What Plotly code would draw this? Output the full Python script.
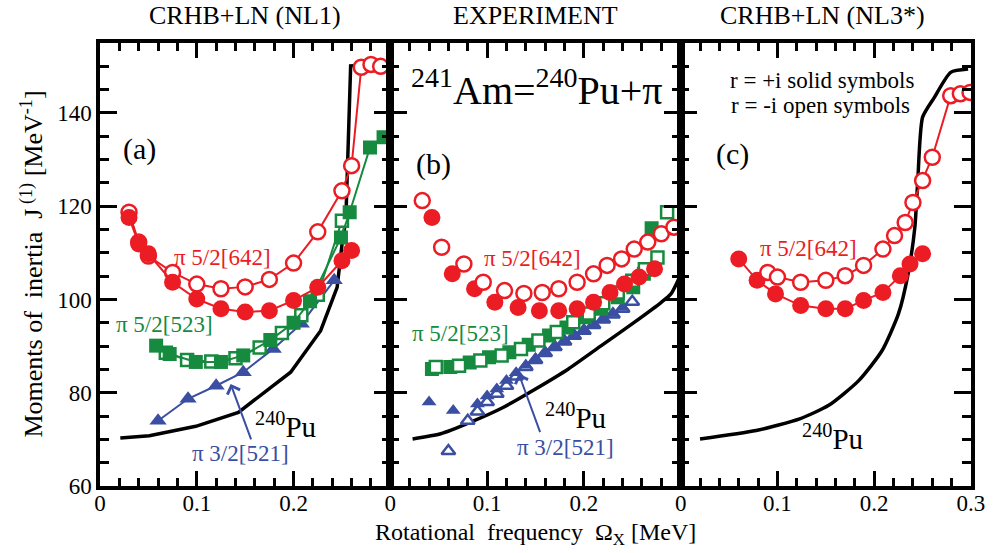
import plotly.graph_objects as go

# ---------------- data ----------------
# Panel (a): CRHB+LN (NL1)
a_core_w = [0.021, 0.051, 0.099, 0.143, 0.197, 0.228, 0.245, 0.2505, 0.254, 0.259, 0.298]
a_core_j = [70.3, 70.8, 72.8, 75.8, 84.4, 93.3, 102.6, 112.6, 116.9, 150.1, 150.5]

a_642_open_w = [0.03, 0.04, 0.05, 0.075, 0.1, 0.125, 0.15, 0.175, 0.2, 0.225, 0.25, 0.26, 0.27, 0.28, 0.29]
a_642_open_j = [118.7, 112.3, 109.3, 105.8, 103.3, 102.3, 102.7, 104.3, 107.8, 114.5, 123.3, 128.7, 149.8, 150.4, 150.0]
a_642_fill_w = [0.03, 0.04, 0.05, 0.075, 0.1, 0.125, 0.15, 0.175, 0.2, 0.225, 0.25, 0.26]
a_642_fill_j = [117.6, 111.9, 109.8, 103.7, 100.1, 98.0, 97.3, 97.6, 99.8, 102.6, 108.3, 110.5]

a_523_fill_w = [0.058, 0.072, 0.099, 0.125, 0.148, 0.176, 0.2, 0.217, 0.249, 0.258, 0.279, 0.293]
a_523_fill_j = [90.1, 88.3, 86.6, 86.6, 88.0, 91.3, 95.0, 99.6, 113.3, 118.7, 132.6, 134.8]
a_523_open_w = [0.068, 0.09, 0.115, 0.14, 0.165, 0.188, 0.208, 0.225, 0.25]
a_523_open_j = [88.6, 87.0, 86.7, 87.4, 89.7, 92.8, 96.6, 101.0, 116.9]

a_521_fill_w = [0.06, 0.091, 0.12, 0.148, 0.179, 0.208, 0.242]
a_521_fill_j = [74.0, 78.7, 81.5, 84.4, 89.4, 94.8, 104.1]

# Panel (b): experiment
b_core_w = [0.023, 0.052, 0.083, 0.117, 0.15, 0.184, 0.218, 0.252, 0.28, 0.29, 0.298]
b_core_j = [70.1, 71.2, 73.7, 76.9, 80.8, 85.1, 90.1, 95.1, 99.4, 101.2, 104.4]

b_642_fill_w = [0.043, 0.064, 0.087, 0.108, 0.132, 0.154, 0.174, 0.193, 0.21, 0.227, 0.242, 0.257, 0.273]
b_642_fill_j = [117.6, 105.5, 102.3, 99.4, 98.3, 97.6, 97.6, 98.0, 99.4, 101.5, 103.3, 104.8, 106.6]
b_642_open_w = [0.033, 0.053, 0.076, 0.096, 0.118, 0.138, 0.157, 0.174, 0.193, 0.21, 0.224, 0.239, 0.252, 0.266, 0.28, 0.293]
b_642_open_j = [121.2, 111.2, 107.6, 103.7, 101.9, 101.3, 101.5, 102.3, 103.7, 105.5, 107.3, 108.7, 110.8, 112.3, 114.1, 115.5]

b_523_fill_w = [0.043, 0.062, 0.082, 0.102, 0.123, 0.143, 0.164, 0.182, 0.201, 0.218, 0.235, 0.251, 0.262, 0.27]
b_523_fill_j = [85.1, 85.5, 86.5, 87.6, 88.7, 90.3, 92.3, 94.0, 96.2, 98.0, 100.5, 102.6, 105.5, 115.3]
b_523_open_w = [0.047, 0.071, 0.093, 0.115, 0.135, 0.153, 0.172, 0.189, 0.205, 0.22, 0.235, 0.25, 0.263, 0.276, 0.286]
b_523_open_j = [85.5, 85.8, 86.9, 88.0, 89.4, 91.2, 93.0, 95.1, 97.0, 99.2, 101.5, 104.0, 106.5, 109.0, 118.7]

b_521_fill_w = [0.04, 0.065, 0.09, 0.10, 0.11, 0.12, 0.13, 0.14, 0.15, 0.16, 0.17, 0.18, 0.19, 0.2, 0.21, 0.22, 0.23, 0.24]
b_521_fill_j = [78.0, 76.2, 77.6, 79.3, 80.8, 82.6, 84.3, 85.9, 87.3, 88.6, 89.9, 91.1, 92.3, 93.4, 94.6, 95.8, 97.0, 98.3]
b_521_open_w = [0.06, 0.08, 0.09, 0.1, 0.11, 0.12, 0.13, 0.14, 0.15, 0.16, 0.17, 0.18, 0.19, 0.2, 0.21, 0.22, 0.23, 0.24, 0.25]
b_521_open_j = [67.5, 74.0, 76.0, 78.0, 79.8, 81.5, 83.5, 85.5, 87.0, 88.5, 89.8, 91.0, 92.2, 93.3, 94.5, 95.7, 96.8, 98.0, 99.5]

# Panel (c): CRHB+LN (NL3*)
c_core_w = [0.02, 0.078, 0.123, 0.153, 0.184, 0.208, 0.225, 0.235, 0.242, 0.245, 0.25, 0.262, 0.279, 0.297]
c_core_j = [70.1, 71.9, 74.4, 77.3, 82.6, 89.0, 96.9, 105.5, 115.5, 125.5, 139.1, 143.3, 148.7, 149.4]

c_642_fill_w = [0.06, 0.079, 0.098, 0.124, 0.15, 0.17, 0.189, 0.209, 0.227, 0.237, 0.25]
c_642_fill_j = [108.7, 104.1, 101.2, 98.7, 98.0, 98.0, 99.8, 101.5, 105.1, 107.6, 109.8]
c_642_open_w = [0.09, 0.1, 0.124, 0.15, 0.17, 0.189, 0.209, 0.221, 0.232, 0.24, 0.25, 0.26, 0.279, 0.289, 0.299]
c_642_open_j = [105.8, 104.8, 103.7, 104.1, 105.1, 107.3, 110.8, 113.7, 116.5, 120.8, 125.5, 130.5, 143.7, 144.1, 144.4]

panel_titles = ["CRHB+LN (NL1)", "EXPERIMENT", "CRHB+LN (NL3*)"]
x_tick_vals = [[0, 0.1, 0.2], [0, 0.1, 0.2], [0, 0.1, 0.2, 0.3]]
x_tick_text = [["0", "0.1", "0.2"], ["0", "0.1", "0.2"], ["0", "0.1", "0.2", "0.3"]]

# ---------------- styling ----------------
RED = "#EC1C24"
GREEN = "#168A3E"
BLUE = "#3A4EA2"
FONT = "'Liberation Serif', 'Times New Roman', Times, serif"

fig = go.Figure()


def add(xs, ys, panel, color, symbol, size, filled, lines=True, lw=2):
    fig.add_trace(go.Scatter(
        x=xs, y=ys, xaxis=f"x{panel}" if panel > 1 else "x",
        yaxis=f"y{panel}" if panel > 1 else "y",
        mode="lines+markers" if lines else "markers",
        line=dict(color=color, width=lw),
        marker=dict(symbol=symbol, size=size,
                    color=color if filled else "white",
                    line=dict(color=color, width=0 if filled else 2.5)),
        showlegend=False, hoverinfo="skip"))


def core(xs, ys, panel, shape):
    fig.add_trace(go.Scatter(
        x=xs, y=ys, xaxis=f"x{panel}" if panel > 1 else "x",
        yaxis=f"y{panel}" if panel > 1 else "y",
        mode="lines", line=dict(color="black", width=3.5, shape=shape, smoothing=0.6),
        showlegend=False, hoverinfo="skip"))


# panel (a)
core(a_core_w, a_core_j, 1, "linear")
add(a_521_fill_w, a_521_fill_j, 1, BLUE, "triangle-up", 15, True)
add(a_523_open_w, a_523_open_j, 1, GREEN, "square", 12, False)
add(a_523_fill_w, a_523_fill_j, 1, GREEN, "square", 14, True)
add(a_642_open_w, a_642_open_j, 1, RED, "circle", 15, False)
add(a_642_fill_w, a_642_fill_j, 1, RED, "circle", 17, True)

# panel (b)
core(b_core_w, b_core_j, 2, "spline")
add(b_521_open_w, b_521_open_j, 2, BLUE, "triangle-up", 12, False, lines=False)
add(b_521_fill_w, b_521_fill_j, 2, BLUE, "triangle-up", 13, True, lines=False)
add(b_523_fill_w, b_523_fill_j, 2, GREEN, "square", 14, True, lines=False)
add(b_523_open_w, b_523_open_j, 2, GREEN, "square", 12, False, lines=False)
add(b_642_fill_w, b_642_fill_j, 2, RED, "circle", 17, True, lines=False)
add(b_642_open_w, b_642_open_j, 2, RED, "circle", 15, False, lines=False)

# panel (c)
core(c_core_w, c_core_j, 3, "spline")
add(c_642_fill_w, c_642_fill_j, 3, RED, "circle", 17, True)
add(c_642_open_w, c_642_open_j, 3, RED, "circle", 15, False)

# ---------------- axes ----------------
layout = dict(
    width=997, height=553,
    margin=dict(l=100, r=17, t=43, b=67),
    paper_bgcolor="white", plot_bgcolor="white",
    font=dict(family=FONT, color="black", size=20),
)
for i in range(3):
    suffix = "" if i == 0 else str(i + 1)
    layout[f"xaxis{suffix}"] = dict(
        domain=[i / 3, (i + 1) / 3], range=[0, 0.3], anchor=f"y{suffix}",
        tickmode="array", tickvals=x_tick_vals[i], ticktext=x_tick_text[i],
        ticks="inside", ticklen=15, tickwidth=3, tickcolor="black",
        minor=dict(tickmode="linear", tick0=0, dtick=0.02, ticks="inside",
                   ticklen=8, tickwidth=3, tickcolor="black"),
        showline=True, linewidth=3.5, linecolor="black", mirror="allticks",
        showgrid=False, zeroline=False,
        tickfont=dict(family=FONT, size=23), ticklabelstandoff=-6,
    )
    layout[f"yaxis{suffix}"] = dict(
        domain=[0, 1], range=[60, 155], anchor=f"x{suffix}",
        tickmode="linear", tick0=60, dtick=20,
        ticks="inside", ticklen=17, tickwidth=3, tickcolor="black",
        minor=dict(tickmode="linear", tick0=60, dtick=5, ticks="inside",
                   ticklen=9, tickwidth=3, tickcolor="black"),
        showline=True, linewidth=3.5, linecolor="black", mirror="allticks",
        showgrid=False, zeroline=False, showticklabels=(i == 0),
        tickfont=dict(family=FONT, size=23),
    )
fig.update_layout(**layout)

# ---------------- text ----------------
ann = []
for i, t in enumerate(panel_titles):
    ann.append(dict(text=t, xref="paper", yref="paper", x=(i + 0.5) / 3 + [0.0, 0.0, -0.004][i],
                    y=1.063, showarrow=False, xanchor="center", yanchor="middle",
                    font=dict(family=FONT, size=26)))

ann.append(dict(text="Moments of  inertia  J<sup> (1)</sup> [MeV<sup>-1</sup>]",
                xref="paper", yref="paper", x=-0.078, y=0.5, textangle=-90,
                showarrow=False, xanchor="center", yanchor="middle",
                font=dict(family=FONT, size=26)))
ann.append(dict(text="Rotational  frequency  Ω<sub>X</sub> [MeV]",
                xref="paper", yref="paper", x=0.5, y=-0.108, showarrow=False,
                xanchor="center", yanchor="middle", font=dict(family=FONT, size=24)))


def label(text, panel, x, y, color="black", size=23):
    s = "" if panel == 1 else str(panel)
    ann.append(dict(text=text, xref=f"x{s}", yref=f"y{s}", x=x, y=y,
                    showarrow=False, xanchor="center", yanchor="middle",
                    font=dict(family=FONT, size=size, color=color)))


def arrow(panel, x, y, ax, ay, color):
    s = "" if panel == 1 else str(panel)
    ann.append(dict(text="", xref=f"x{s}", yref=f"y{s}", x=x, y=y, ax=ax, ay=ay,
                    showarrow=True, arrowhead=4, arrowsize=1.3, arrowwidth=2,
                    arrowcolor=color))


PU = "<sup>240</sup>Pu"
# panel (a)
label("(a)", 1, 0.041, 132.3, size=30)
label("π 5/2[642]", 1, 0.127, 109.0, RED)
label("π 5/2[523]", 1, 0.067, 94.6, GREEN)
label("π 3/2[521]", 1, 0.145, 67.0, BLUE)
label(PU, 1, 0.192, 73.0, size=29)
arrow(1, 0.135, 81.9, 21, 57, BLUE)
# panel (b)
label("<sup>241</sup>Am=<sup>240</sup>Pu+π", 2, 0.152, 145.5, size=40)
label("(b)", 2, 0.045, 129.1, size=30)
label("π 5/2[642]", 2, 0.147, 108.8, RED)
label("π 5/2[523]", 2, 0.072, 92.7, GREEN)
label(PU, 2, 0.191, 75.0, size=29)
label("π 3/2[521]", 2, 0.181, 68.3, BLUE)
arrow(2, 0.1326, 84.1, 22, 60, BLUE)
# panel (c)
label("r = +i solid symbols", 3, 0.146, 146.9, size=23)
label("r = -i open symbols", 3, 0.145, 141.6, size=23)
label("(c)", 3, 0.054, 131.3, size=30)
label("π 5/2[642]", 3, 0.132, 110.9, RED)
label(PU, 3, 0.157, 70.5, size=29)

fig.update_layout(annotations=ann)
fig.write_html("out.html")
